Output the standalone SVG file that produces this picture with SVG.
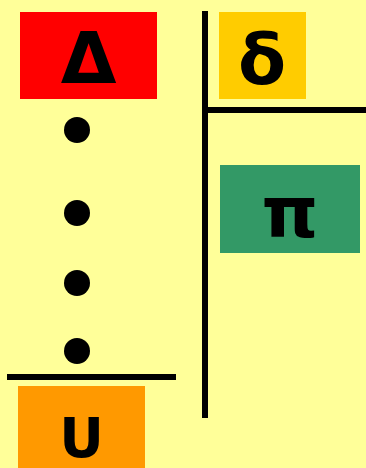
<svg xmlns="http://www.w3.org/2000/svg" width="366" height="468" viewBox="0 0 366 468">
<style>
.lbl{font-family:"DejaVu Sans",sans-serif;font-weight:bold;fill:#000;text-anchor:middle}
.ln{stroke:#000;stroke-width:6;fill:none}
</style>
<rect width="366" height="468" fill="#FFFF99"/>
<g id="connectors">
<line class="ln" x1="205" y1="11" x2="205" y2="418"/>
<line class="ln" x1="205" y1="110" x2="366" y2="110"/>
<line class="ln" x1="7" y1="377" x2="176" y2="377"/>
</g>
<g id="node-delta-upper">
<rect x="20" y="12" width="137" height="87" fill="#FF0000"/>
<text class="lbl" x="88.5" y="83" font-size="72">Δ</text>
</g>
<g id="node-delta-lower">
<rect x="219" y="12" width="87" height="87" fill="#FFCC00"/>
<text class="lbl" x="262" y="84" font-size="70">δ</text>
</g>
<g id="node-pi">
<rect x="220" y="165" width="140" height="88" fill="#339966"/>
<text class="lbl" x="290" y="237" font-size="72">π</text>
</g>
<g id="node-dots">
<circle cx="77" cy="130" r="13" fill="#000"/>
<circle cx="77" cy="213" r="13" fill="#000"/>
<circle cx="77" cy="283" r="13" fill="#000"/>
<circle cx="77" cy="351" r="13" fill="#000"/>
</g>
<g id="node-u">
<rect x="18" y="386" width="127" height="82" fill="#FF9900"/>
<text class="lbl" x="81.5" y="457" font-size="55">U</text>
</g>
</svg>
